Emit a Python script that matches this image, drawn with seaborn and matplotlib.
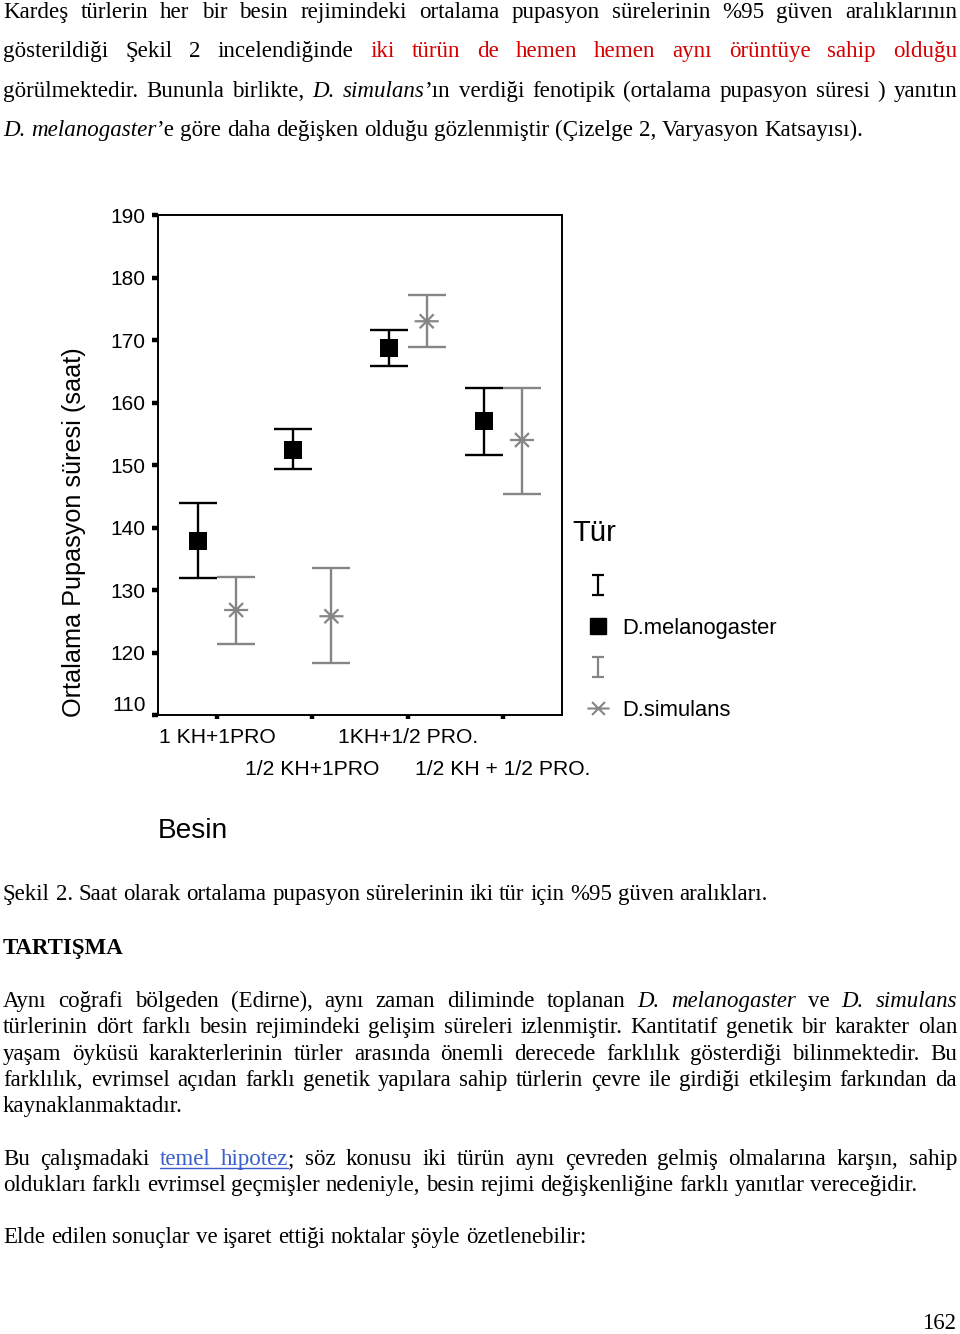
import numpy as np
import pandas as pd
import matplotlib
matplotlib.use("Agg")
import matplotlib.pyplot as plt
import seaborn as sns
from matplotlib.transforms import IdentityTransform, ScaledTranslation
from matplotlib.font_manager import FontProperties
from matplotlib.path import Path
from matplotlib.lines import Line2D

# ---------------- data ----------------
groups = ["1 KH+1PRO", "1/2 KH+1PRO", "1KH+1/2 PRO.", "1/2 KH + 1/2 PRO."]
species = ["D.melanogaster", "D.simulans"]
mel_mean = [137.8, 152.4, 168.7, 157.0]
mel_low = [131.9, 149.4, 165.8, 151.6]
mel_high = [143.9, 155.8, 171.6, 162.3]
sim_mean = [126.8, 125.8, 173.0, 154.0]
sim_low = [121.4, 118.3, 168.9, 145.4]
sim_high = [132.1, 133.5, 177.2, 162.3]
yticks = [110, 120, 130, 140, 150, 160, 170, 180, 190]
ylabel = "Ortalama Pupasyon süresi (saat)"
xlabel = "Besin"
legend_title = "Tür"

rows = []
for i, g in enumerate(groups):
    rows.append(dict(Besin=g, Tur=species[0], idx=i, mean=mel_mean[i], low=mel_low[i], high=mel_high[i]))
    rows.append(dict(Besin=g, Tur=species[1], idx=i, mean=sim_mean[i], low=sim_low[i], high=sim_high[i]))
df = pd.DataFrame(rows)
dodge = {species[0]: -0.2, species[1]: 0.2}
df["pos"] = df["idx"] + df["Tur"].map(dodge)

# ---------------- style ----------------
W, H = 960, 1334
sns.set_style("white", rc={"axes.edgecolor": "black", "text.color": "black",
                           "xtick.color": "black", "ytick.color": "black",
                           "axes.labelcolor": "black"})
plt.rcParams["font.family"] = ["Liberation Sans", "DejaVu Sans"]

fig = plt.figure(figsize=(9.6, 13.34), dpi=100)
fig.patch.set_facecolor("white")
renderer = fig.canvas.get_renderer()

SANS = ["Liberation Sans", "DejaVu Sans"]
SERIF = ["Liberation Serif", "DejaVu Serif"]


def fprop(family, size, weight="normal", style="normal"):
    return FontProperties(family=family, size=size, weight=weight, style=style)


def tw(s, prop):
    w, h, d = renderer.get_text_width_height_descent(s, prop, ismath=False)
    return w


def fit(s, family, target, weight="normal", style="normal", base=20.0):
    return base * target / tw(s, fprop(family, base, weight, style))


# ---------------- chart ----------------
BLACK = "black"
GRAY = "#858585"
ax = fig.add_axes([158 / W, 1 - 715 / H, 404 / W, 500 / H])

fs_ytick = fit("190", SANS, 35)
fs_xtick = fit("1/2 KH + 1/2 PRO.", SANS, 176)
fs_ylab = fit(ylabel, SANS, 368)
fs_xlab = fit(xlabel, SANS, 70)
fs_leg = fit("D.melanogaster", SANS, 155)
fs_title = fit(legend_title, SANS, 44)

for sp, col in zip(species, [BLACK, GRAY]):
    d = df[df["Tur"] == sp]
    ax.errorbar(d["pos"], d["mean"], yerr=[d["mean"] - d["low"], d["high"] - d["mean"]],
                fmt="none", ecolor=col, elinewidth=1.7, capsize=13.8, capthick=1.7, zorder=2)

ast_path = Path([(-1, 0), (1, 0), (-0.58, -0.58), (0.58, 0.58), (-0.58, 0.58), (0.58, -0.58)],
                [Path.MOVETO, Path.LINETO] * 3)
eb_path = Path([(0, -1), (0, 1), (-0.55, 1), (0.55, 1), (-0.55, -1), (0.55, -1)],
               [Path.MOVETO, Path.LINETO] * 3)

sns.scatterplot(data=df[df["Tur"] == species[0]], x="pos", y="mean", marker="s", s=180,
                color=BLACK, edgecolor=BLACK, linewidth=0, ax=ax, legend=False, zorder=3)
sns.scatterplot(data=df[df["Tur"] == species[1]], x="pos", y="mean", marker=ast_path, s=300,
                color=GRAY, facecolor="none", edgecolor=GRAY, linewidth=1.6, ax=ax,
                legend=False, zorder=3)

ax.set_xlim(-0.62, 3.62)
ax.set_ylim(110, 190)
ax.set_yticks(yticks)
ax.set_yticklabels([str(v) for v in yticks], fontsize=fs_ytick)
ax.set_xticks(range(len(groups)))
ax.set_xticklabels(groups, fontsize=fs_xtick)
for sp in ax.spines.values():
    sp.set_visible(True)
    sp.set_color("black")
    sp.set_linewidth(1.4)
ax.tick_params(axis="y", left=True, direction="out", length=4.5, width=3.2, pad=4.5, colors="black")
ax.tick_params(axis="x", bottom=True, direction="out", length=3, width=3.2, pad=6, colors="black")
ax.set_ylabel(ylabel, fontsize=fs_ylab)
ax.yaxis.set_label_coords(-0.178, 0.366)
ax.set_xlabel(xlabel, fontsize=fs_xlab, loc="left")
ax.xaxis.set_label_coords(0.0, -0.206)
ax.xaxis.label.set_ha("left")
ax.get_yticklabels()[0].set_va("bottom")
for i, lab in enumerate(ax.get_xticklabels()):
    if i % 2 == 1:
        lab.set_transform(lab.get_transform() + ScaledTranslation(0, -0.32, fig.dpi_scale_trans))

# legend
handles = [
    Line2D([], [], ls="none", marker=eb_path, markersize=15, markeredgecolor=BLACK,
           markerfacecolor="none", markeredgewidth=1.6),
    Line2D([], [], ls="none", marker="s", markersize=12, color=BLACK),
    Line2D([], [], ls="none", marker=eb_path, markersize=15, markeredgecolor=GRAY,
           markerfacecolor="none", markeredgewidth=1.6),
    Line2D([], [], ls="none", marker=ast_path, markersize=16, markeredgecolor=GRAY,
           markerfacecolor="none", markeredgewidth=1.5),
]
labels = ["", species[0], "", species[1]]
fig.legend(handles, labels, loc="upper left", bbox_to_anchor=(585 / W, 1 - 577 / H),
           frameon=False, borderpad=0, borderaxespad=0, handlelength=1.2,
           handletextpad=0.47, labelspacing=0.9, fontsize=fs_leg)
fig.text(572 / W, 1 - 533 / H, legend_title, fontsize=fs_title, ha="left", va="center",
         family=SANS)

# ---------------- page text ----------------
STY = {
    "n": dict(weight="normal", style="normal", color="black"),
    "i": dict(weight="normal", style="italic", color="black"),
    "r": dict(weight="normal", style="normal", color="#d40000"),
    "l": dict(weight="normal", style="normal", color="#3a5fcd"),
    "b": dict(weight="bold", style="normal", color="black"),
}


def build_words(segs):
    words = []
    join = False
    for txt, st in segs:
        parts = txt.split(" ")
        for k, p in enumerate(parts):
            if k == 0 and join and words:
                if p:
                    words[-1].append((p, st))
            else:
                if p:
                    words.append([(p, st)])
        join = not txt.endswith(" ")
    return words


def pprop(st, size):
    s = STY[st]
    return fprop(SERIF, size, s["weight"], s["style"])


def space_w(size):
    p = fprop(SERIF, size)
    return tw("a a", p) - tw("aa", p)


def natural_width(segs, size):
    words = build_words(segs)
    tot = sum(tw(p, pprop(st, size)) for w in words for p, st in w)
    return tot + space_w(size) * (len(words) - 1)


def draw_line(segs, baseline, size, justify=False, x0=3, x1=957):
    words = build_words(segs)
    widths = [sum(tw(p, pprop(st, size)) for p, st in w) for w in words]
    if justify and len(words) > 1:
        gap = (x1 - x0 - sum(widths)) / (len(words) - 1)
    else:
        gap = space_w(size)
    x = x0
    link = []
    for w, ww in zip(words, widths):
        for p, st in w:
            pw = tw(p, pprop(st, size))
            fig.text(x, H - baseline, p, transform=IdentityTransform(),
                     fontproperties=pprop(st, size), color=STY[st]["color"],
                     ha="left", va="baseline")
            if st == "l":
                link.append((x, x + pw))
            x += pw
        x += gap
    if link:
        xa = min(a for a, b in link)
        xb = max(b for a, b in link)
        fig.add_artist(Line2D([xa, xb], [H - baseline - 3, H - baseline - 3],
                              transform=IdentityTransform(), color=STY["l"]["color"], lw=1.0))


top_lines = [
    ([("Kardeş türlerin her bir besin rejimindeki ortalama pupasyon sürelerinin %95 güven aralıklarının", "n")], True),
    ([("gösterildiği Şekil 2 incelendiğinde ", "n"),
      ("iki türün de hemen hemen aynı örüntüye sahip olduğu", "r")], True),
    ([("görülmektedir. Bununla birlikte, ", "n"), ("D. simulans", "i"),
      ("’ın verdiği fenotipik (ortalama pupasyon süresi ) yanıtın", "n")], True),
    ([("D. melanogaster", "i"),
      ("’e göre daha değişken olduğu gözlenmiştir (Çizelge 2, Varyasyon Katsayısı).", "n")], False),
]
size_top = 20 * 859 / natural_width(top_lines[3][0], 20)
for (segs, j), b in zip(top_lines, [18, 57, 97, 136]):
    draw_line(segs, b, size_top, justify=j)

caption = [("Şekil 2. Saat olarak ortalama pupasyon sürelerinin iki tür için %95 güven aralıkları.", "n")]
size_low = 20 * 767 / natural_width(caption, 20)
draw_line(caption, 900, size_low)
draw_line([("TARTIŞMA", "b")], 954, size_low)

para1 = [
    ([("Aynı coğrafi bölgeden (Edirne), aynı zaman diliminde toplanan ", "n"), ("D. melanogaster", "i"),
      (" ve ", "n"), ("D. simulans", "i")], True),
    ([("türlerinin dört farklı besin rejimindeki gelişim süreleri izlenmiştir. Kantitatif genetik bir karakter olan", "n")], True),
    ([("yaşam öyküsü karakterlerinin türler arasında önemli derecede farklılık gösterdiği bilinmektedir. Bu", "n")], True),
    ([("farklılık, evrimsel açıdan farklı genetik yapılara sahip türlerin çevre ile girdiği etkileşim farkından da", "n")], True),
    ([("kaynaklanmaktadır.", "n")], False),
]
for (segs, j), b in zip(para1, [1007, 1033, 1060, 1086, 1112]):
    draw_line(segs, b, size_low, justify=j)

para2 = [
    ([("Bu çalışmadaki ", "n"), ("temel hipotez", "l"),
      ("; söz konusu iki türün aynı çevreden gelmiş olmalarına karşın, sahip", "n")], True),
    ([("oldukları farklı evrimsel geçmişler nedeniyle, besin rejimi değişkenliğine farklı yanıtlar vereceğidir.", "n")], False),
]
for (segs, j), b in zip(para2, [1165, 1191]):
    draw_line(segs, b, size_low, justify=j)
draw_line([("Elde edilen sonuçlar ve işaret ettiği noktalar şöyle özetlenebilir:", "n")], 1243, size_low)

fig.text(956, H - 1329, "162", transform=IdentityTransform(), fontproperties=fprop(SERIF, size_low),
         ha="right", va="baseline", color="black")

fig.savefig("out.png", dpi=100, facecolor="white")
